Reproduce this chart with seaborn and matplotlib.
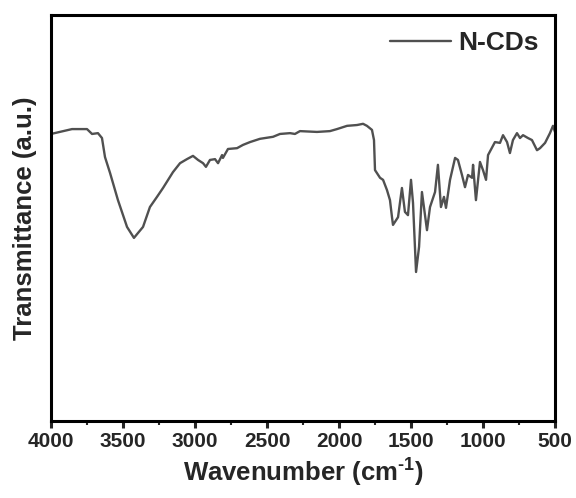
import matplotlib
matplotlib.use("Agg")
import matplotlib.pyplot as plt
import seaborn as sns
import pandas as pd
from matplotlib.ticker import MultipleLocator

wavenumber = [4000, 3854, 3819, 3750, 3715, 3674, 3646, 3625, 3590, 3535, 3472, 3424,
              3361, 3313, 3264, 3222, 3153, 3104, 3056, 3014, 2979, 2944, 2924, 2896,
              2861, 2840, 2812, 2806, 2771, 2708, 2667, 2618, 2549, 2458, 2410, 2340,
              2306, 2271, 2153, 2063, 2014, 1944, 1875, 1833, 1806, 1771, 1757, 1750,
              1715, 1694, 1667, 1646, 1632, 1625, 1590, 1563, 1542, 1521, 1500, 1486,
              1465, 1444, 1424, 1389, 1368, 1333, 1313, 1292, 1271, 1257, 1229, 1194,
              1174, 1146, 1125, 1104, 1076, 1069, 1049, 1021, 1000, 979, 965, 917,
              882, 861, 833, 813, 792, 764, 743, 722, 688, 660, 625, 604, 569, 535,
              514, 500]
transmittance = [70.7, 71.9, 71.9, 71.9, 70.7, 70.9, 69.7, 65.0, 61.1, 54.4, 47.8, 45.1,
                 47.8, 52.7, 55.2, 57.4, 61.3, 63.5, 64.5, 65.3, 64.3, 63.5, 62.6, 64.3,
                 64.5, 63.5, 65.5, 64.8, 67.0, 67.2, 68.0, 68.7, 69.5, 70.0, 70.7, 70.9,
                 70.7, 71.4, 71.2, 71.4, 71.9, 72.7, 72.9, 73.2, 72.7, 71.7, 69.2, 61.8,
                 59.9, 59.4, 56.9, 54.4, 50.2, 48.3, 50.2, 57.4, 51.5, 50.7, 59.4, 53.7,
                 36.7, 42.9, 56.4, 47.0, 52.7, 56.4, 63.1, 52.7, 55.2, 52.5, 59.4, 64.8,
                 64.3, 60.6, 57.6, 60.6, 59.9, 63.1, 54.4, 63.8, 61.8, 59.4, 65.5, 68.7,
                 68.5, 70.4, 68.7, 66.0, 69.2, 70.9, 69.7, 70.4, 69.7, 69.2, 66.7, 67.2,
                 68.5, 70.9, 72.7, 71.2]
series_name = "N-CDs"
x_ticks = [4000, 3500, 3000, 2500, 2000, 1500, 1000, 500]

df = pd.DataFrame({"Wavenumber": wavenumber, "T": transmittance, "sample": series_name})

sns.set_style("ticks")
plt.rcParams["font.family"] = ["Liberation Sans", "DejaVu Sans"]
plt.rcParams["font.weight"] = "bold"
plt.rcParams["mathtext.fontset"] = "custom"
plt.rcParams["mathtext.rm"] = "Liberation Sans:bold"
plt.rcParams["mathtext.bf"] = "Liberation Sans:bold"
plt.rcParams["mathtext.it"] = "Liberation Sans:bold"

fig = plt.figure(figsize=(5.76, 4.98), dpi=100)
ax = fig.add_axes([51 / 576, 77 / 498, 504 / 576, 406 / 498])

sns.lineplot(data=df, x="Wavenumber", y="T", hue="sample", palette=["#505050"],
             linewidth=1.7, ax=ax, estimator=None)

ax.set_xlim(4000, 500)
ax.set_ylim(0, 100)
ax.set_xticks(x_ticks)
ax.set_xticklabels([str(t) for t in x_ticks], fontsize=15, fontweight="bold")
ax.xaxis.set_minor_locator(MultipleLocator(250))
ax.set_yticks([])
ax.tick_params(axis="x", which="major", direction="out", length=5, width=2.2, pad=3)
ax.tick_params(axis="x", which="minor", direction="out", length=3, width=1.5)
for s in ax.spines.values():
    s.set_linewidth(2.2)
    s.set_color("black")
    s.set_visible(True)

ax.set_xlabel("Wavenumber (cm$^{\\text{-1}}$)", fontsize=18.5, fontweight="bold", labelpad=4)
ax.set_ylabel("Transmittance (a.u.)", fontsize=18.5, fontweight="bold", labelpad=10)

leg = ax.legend(loc="upper right", frameon=False, handlelength=2.3, handletextpad=0.3,
                borderaxespad=0.2, prop={"size": 19, "weight": "bold"})

fig.savefig("out.png", dpi=100)
